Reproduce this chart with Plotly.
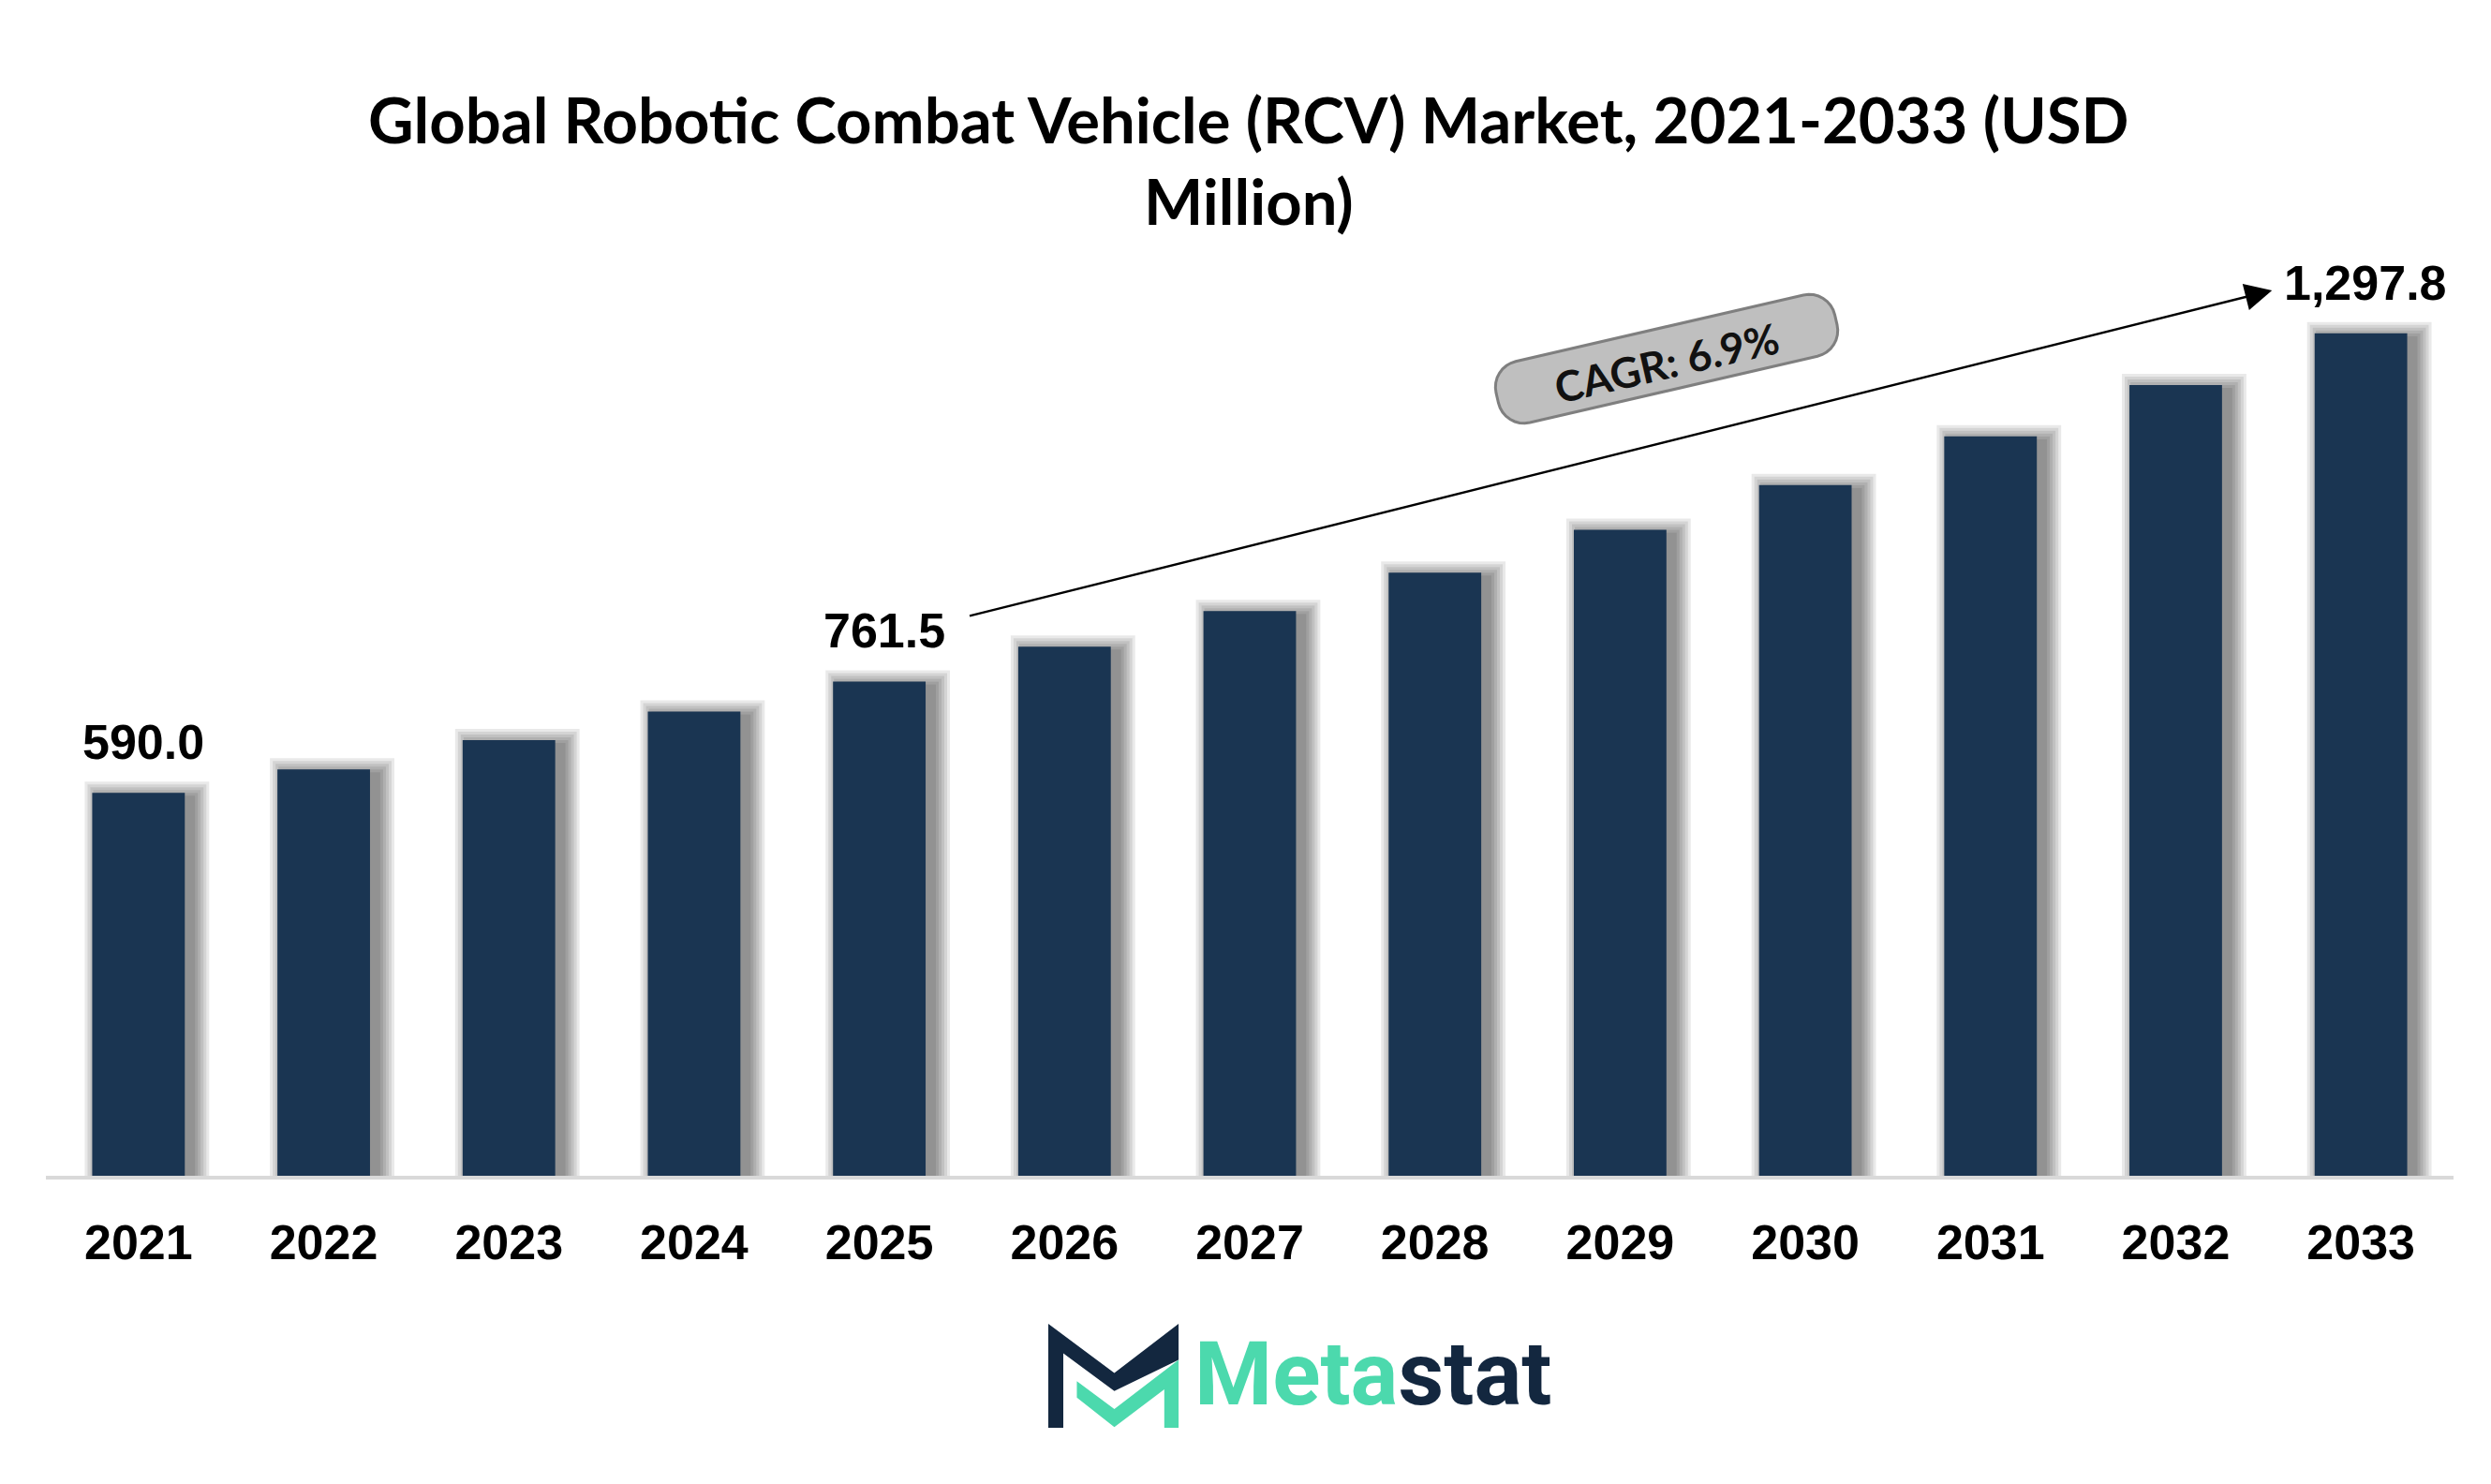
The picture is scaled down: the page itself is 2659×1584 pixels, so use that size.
import math
import plotly.graph_objects as go

# ---------------- data ----------------
years = [str(y) for y in range(2021, 2034)]
values = [590.0, 626.0, 671.0, 715.0, 761.5, 815.0, 870.0, 929.0, 995.0, 1064.0, 1139.0, 1218.0, 1297.8]
label_years = ["2021", "2025", "2033"]
label_values = [590.0, 761.5, 1297.8]
label_texts = ["590.0", "761.5", "1,297.8"]
cagr_text = "CAGR: 6.9%"
title_line1 = "Global Robotic Combat Vehicle (RCV) Market, 2021-2033 (USD"
title_line2 = "Million)"

# ---------------- layout geometry (pixels) ----------------
WIDTH, HEIGHT = 2659, 1584
L, R, T, B = 49, 2619, 285, 1255
PW, PH = R - L, B - T
YMAX = 1400.0
CAT_PX = PW / len(years)          # pixels per category
UPP = YMAX / PH                   # data units per pixel

BAR_COLOR = "#1a3552"


def px_x(px):
    return (px - L) / PW


def px_y(py):
    return (B - py) / PH


fig = go.Figure()

# soft drop shadow behind bars (layered translucent bars)
dx = 9
for e in [2, 5, 8, 11, 14, 17]:
    fig.add_trace(go.Bar(
        x=years,
        y=[v + (e - 5) * UPP for v in values],
        width=0.5 + 2 * e / CAT_PX,
        offset=-0.25 - e / CAT_PX + dx / CAT_PX,
        marker=dict(color="rgba(0,0,0,0.085)", line=dict(width=0)),
        hoverinfo="skip",
        showlegend=False,
    ))

fig.add_trace(go.Bar(
    x=years,
    y=values,
    width=0.5,
    offset=-0.25,
    marker=dict(color=BAR_COLOR, line=dict(width=0)),
    showlegend=False,
))

annotations = []

# value labels
for yr, v, t in zip(label_years, label_values, label_texts):
    idx = years.index(yr)
    annotations.append(dict(
        x=idx, y=v, xref="x", yref="y", text="<b>%s</b>" % t, showarrow=False,
        xanchor="center", yanchor="middle", yshift=54, xshift=5,
        font=dict(family="Liberation Sans, Arial", size=52, color="#000000"),
    ))

# CAGR arrow
annotations.append(dict(
    x=11.52, y=1364, xref="x", yref="y",
    ax=4.48, ay=862, axref="x", ayref="y",
    text="", showarrow=True, arrowhead=2, arrowsize=2.4, arrowwidth=2.4,
    arrowcolor="#000000", standoff=0, startstandoff=0,
))

# titles
annotations.append(dict(
    x=px_x(1333), y=px_y(127), xref="paper", yref="paper", text="<b>%s</b>" % title_line1,
    showarrow=False, xanchor="center", yanchor="middle",
    font=dict(family="Lato", size=67, color="#000000"),
))
annotations.append(dict(
    x=px_x(1333), y=px_y(214), xref="paper", yref="paper", text="<b>%s</b>" % title_line2,
    showarrow=False, xanchor="center", yanchor="middle",
    font=dict(family="Lato", size=67, color="#000000"),
))

# CAGR rounded box
cx, cy = 1779, 383
BL, BH, BR = 371, 67, 28
ang = math.radians(13)


def rot(u, v):
    return (cx + u * math.cos(ang) + v * math.sin(ang),
            cy - u * math.sin(ang) + v * math.cos(ang))


pts = []
corner_defs = [
    (BL / 2 - BR, -BH / 2 + BR, -90, 0),
    (BL / 2 - BR, BH / 2 - BR, 0, 90),
    (-BL / 2 + BR, BH / 2 - BR, 90, 180),
    (-BL / 2 + BR, -BH / 2 + BR, 180, 270),
]
for ccx, ccy, a0, a1 in corner_defs:
    for k in range(9):
        a = math.radians(a0 + (a1 - a0) * k / 8)
        pts.append(rot(ccx + BR * math.cos(a), ccy + BR * math.sin(a)))
path = "M " + " L ".join("%.5f,%.5f" % (px_x(p[0]), px_y(p[1])) for p in pts) + " Z"

shapes = [dict(type="path", path=path, xref="paper", yref="paper",
               fillcolor="#bfbfbf", line=dict(color="#7f7f7f", width=3), layer="above")]

annotations.append(dict(
    x=px_x(cx), y=px_y(cy + 4), xref="paper", yref="paper", text="<b>%s</b>" % cagr_text,
    showarrow=False, textangle=-13, xanchor="center", yanchor="middle",
    font=dict(family="Lato", size=45, color="#111111"),
))

# ---------------- logo ----------------
def lx(zx):
    return 1119 + (zx - 105) * 0.381


def ly(zy):
    return 1413 + (zy - 105) * 0.350


def poly(points):
    return "M " + " L ".join("%.5f,%.5f" % (px_x(lx(a)), px_y(ly(b))) for a, b in points) + " Z"


dark_pts = [(105, 105), (290, 255), (470, 105), (470, 215), (290, 310), (147, 195), (147, 422), (105, 422)]
teal_pts = [(185, 280), (290, 365), (470, 215), (470, 422), (430, 422), (430, 305), (290, 420), (185, 330)]
shapes.append(dict(type="path", path=poly(dark_pts), xref="paper", yref="paper",
                   fillcolor="#13273f", line=dict(width=0)))
shapes.append(dict(type="path", path=poly(teal_pts), xref="paper", yref="paper",
                   fillcolor="#4cd9ad", line=dict(width=0)))

annotations.append(dict(
    x=px_x(1273), y=px_y(1466), xref="paper", yref="paper",
    text='<b><span style="color:#4cd9ad">Meta</span><span style="color:#13273f">stat</span></b>',
    showarrow=False, xanchor="left", yanchor="middle",
    font=dict(family="Roboto", size=95, color="#13273f"),
))

fig.update_layout(
    width=WIDTH, height=HEIGHT, autosize=False,
    margin=dict(l=L, r=WIDTH - R, t=T, b=HEIGHT - B, pad=0),
    paper_bgcolor="#ffffff", plot_bgcolor="#ffffff",
    barmode="overlay", bargap=0.5,
    xaxis=dict(
        type="category", range=[-0.5, 12.5], showgrid=False, zeroline=False,
        showline=True, linecolor="#d9d9d9", linewidth=4,
        ticks="outside", ticklen=0, ticklabelstandoff=23,
        tickfont=dict(family="Liberation Sans, Arial", size=52, color="#000000", weight="bold"),
        fixedrange=True,
    ),
    yaxis=dict(range=[0, YMAX], visible=False, showgrid=False, zeroline=False, fixedrange=True),
    annotations=annotations,
    shapes=shapes,
    showlegend=False,
)

fig.write_html("out.html")
